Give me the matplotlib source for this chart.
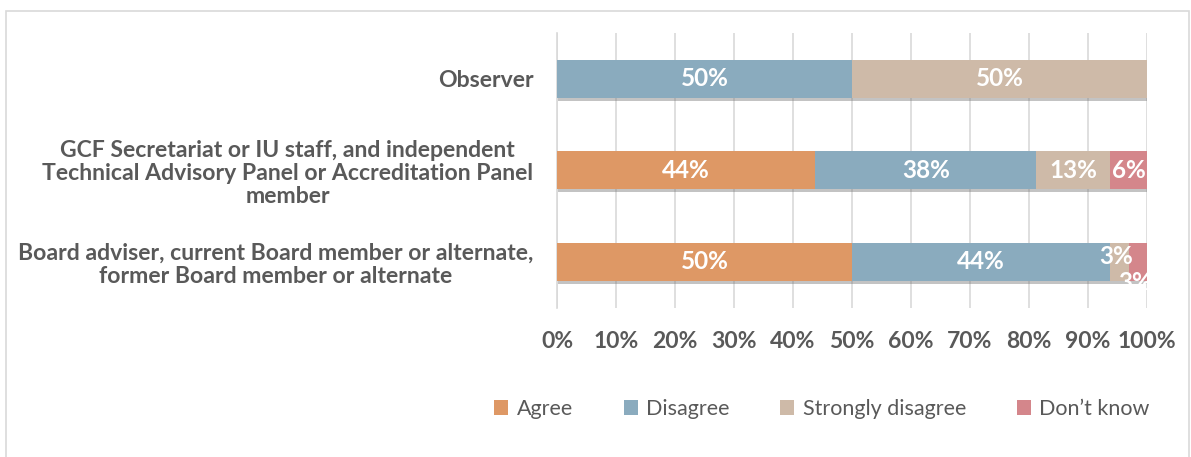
import matplotlib
matplotlib.use("Agg")
import matplotlib.pyplot as plt
import matplotlib.patheffects as pe
from matplotlib.patches import Rectangle
import numpy as np

categories = [
    "Board adviser, current Board member or alternate,\nformer Board member or alternate",
    "GCF Secretariat or IU staff, and independent\nTechnical Advisory Panel or Accreditation Panel\nmember",
    "Observer",
]
series_names = ["Agree", "Disagree", "Strongly disagree", "Don\u2019t know"]
agree = [50.0, 43.75, 0.0]
disagree = [43.75, 37.5, 50.0]
strongly_disagree = [3.125, 12.5, 50.0]
dont_know = [3.125, 6.25, 0.0]
colors = ["#DE9865", "#8AABBE", "#CEBAA8", "#D4868B"]
x_ticks = list(range(0, 101, 10))

plt.rcParams['font.family'] = ['Lato', 'DejaVu Sans']

fig = plt.figure(figsize=(11.91, 4.57), dpi=100)
ax = fig.add_axes([557/1191, 1-307.5/457, 590/1191, 274.5/457])

series = [agree, disagree, strongly_disagree, dont_know]
y = np.arange(len(categories))
left = np.zeros(len(categories))
shadow = [pe.SimplePatchShadow(offset=(1.0, -2.5), shadow_rgbFace="#7a7a7a", alpha=0.45), pe.Normal()]
# label offsets (points) for crowded labels
offsets = {(2, 0): (-2, 4), (3, 0): (-2, -15)}
for si, (vals, col, name) in enumerate(zip(series, colors, series_names)):
    bars = ax.barh(y, vals, left=left, height=0.41, color=col, label=name, zorder=3)
    for b in bars:
        b.set_path_effects(shadow)
    for ci, v in enumerate(vals):
        if v > 0:
            dx, dy = offsets.get((si, ci), (0, 0))
            ax.annotate(f"{int(np.floor(v + 0.5))}%",
                        xy=(left[ci] + v / 2, y[ci]), xytext=(dx, dy), textcoords="offset points",
                        ha="center", va="center", color="white", fontsize=17.5,
                        fontweight="bold", zorder=5, annotation_clip=False)
    left = left + np.array(vals)

ax.set_xlim(0, 100)
ax.set_ylim(-0.5, 2.5)
ax.set_xticks(x_ticks)
ax.set_xticklabels([f"{t}%" for t in x_ticks], fontsize=16.5, fontweight="bold", color="#595959")
ax.set_yticks(y)
ax.set_yticklabels(categories, fontsize=16.6, fontweight="bold", color="#595959",
                   multialignment="center", linespacing=1.12)
ax.tick_params(axis="both", length=0)
ax.tick_params(axis="x", pad=17)
ax.tick_params(axis="y", pad=17)
ax.grid(axis="x", color="#D9D9D9", linewidth=1.2, zorder=0)
for s in ["top", "right", "bottom"]:
    ax.spines[s].set_visible(False)
ax.spines["left"].set_color("#D9D9D9")
ax.spines["left"].set_linewidth(1.2)

handles, labels = ax.get_legend_handles_labels()
leg = fig.legend(handles, labels, loc="center", bbox_to_anchor=(822/1191, 1-409/457), ncol=4,
                 frameon=False, fontsize=15.5, handlelength=0.65, handleheight=0.65,
                 columnspacing=2.35, handletextpad=0.4)
for t in leg.get_texts():
    t.set_color("#595959")
for h in leg.legend_handles:
    h.set_path_effects([])

fig.patches.append(Rectangle((6/1191, 1-470/457), 1183/1191, 459/457, transform=fig.transFigure,
                             fill=False, edgecolor="#D9D9D9", linewidth=1.2, clip_on=False))

fig.savefig("out.png", dpi=100)
